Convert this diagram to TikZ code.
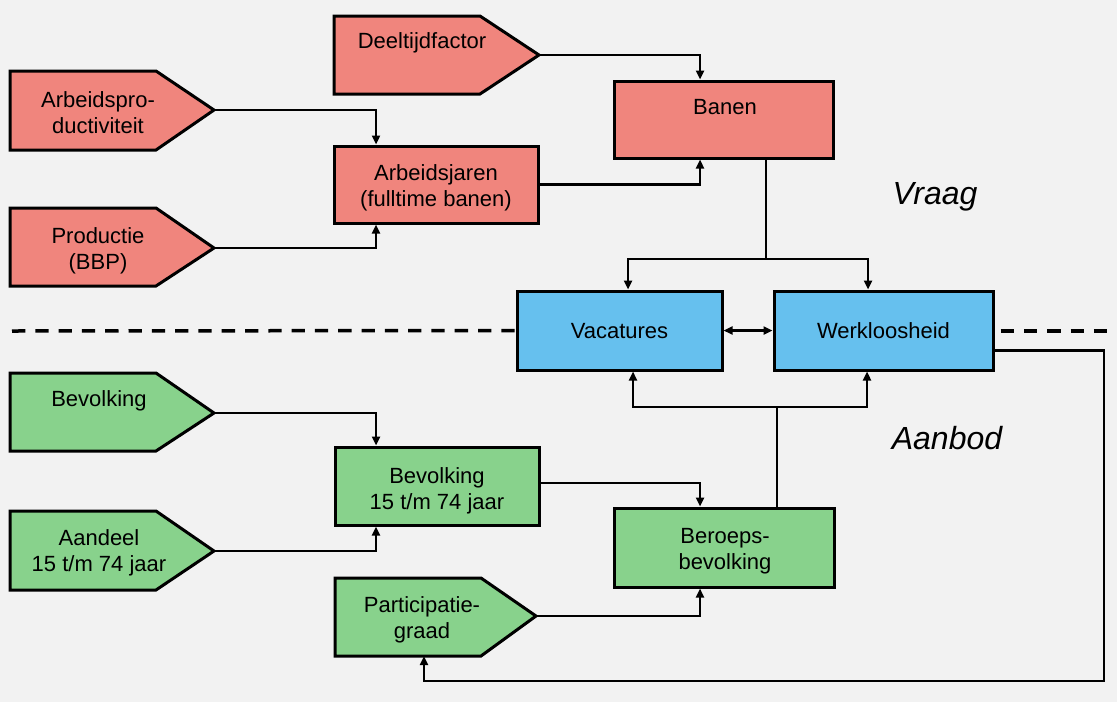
\documentclass[tikz,border=0pt]{standalone}
\usepackage{fontspec}
\setmainfont{Liberation Sans}
\usetikzlibrary{arrows.meta}
\definecolor{bg}{HTML}{F2F2F2}
\definecolor{redf}{HTML}{F0857D}
\definecolor{bluef}{HTML}{66C0EE}
\definecolor{greenf}{HTML}{88D28C}
\tikzset{
  boxst/.style={draw=black, line width=3pt, rectangle, inner sep=0pt},
  pentst/.style={draw=black, line width=3pt, line join=miter},
  lbl/.style={font=\fontsize{22}{26}\selectfont, align=center, inner sep=0pt},
  big/.style={font=\fontsize{32}{36}\selectfont\itshape, inner sep=0pt},
  conn/.style={draw=black, line width=2.6pt},
  arr/.style={conn, -{Triangle[length=9pt,width=8pt]}},
  darr/.style={conn, {Triangle[length=9pt,width=8pt]}-{Triangle[length=9pt,width=8pt]}},
  dashln/.style={draw=black, line width=3.5pt, dash pattern=on 13.3pt off 10pt},
}
\begin{document}
\begin{tikzpicture}[x=1pt,y=-1pt]
\path[fill=bg] (0,0) rectangle (1117,702);
\useasboundingbox (0,0) rectangle (1117,702);

% ---- red pentagons ----
\draw[pentst, fill=redf] (334,16) -- (480,16) -- (539,55) -- (480,94) -- (334,94) -- cycle;
\coordinate (deelT) at (539,55);
\node[lbl] (deelL) at (422,43) {Deeltijdfactor};

\draw[pentst, fill=redf] (10,71) -- (156,71) -- (214,110) -- (156,150) -- (10,150) -- cycle;
\coordinate (arbpT) at (214,110);
\node[lbl] (arbpL) at (98,113) {Arbeidspro-\\ductiviteit};

\draw[pentst, fill=redf] (10,208) -- (156,208) -- (214,248) -- (156,286) -- (10,286) -- cycle;
\coordinate (prodT) at (214,248);
\node[lbl] (prodL) at (98,251) {Productie\\(BBP)};

% ---- red boxes ----
\node[boxst, fill=redf, minimum width=204pt, minimum height=77pt] (arbj) at (436,184.5) {};
\node[lbl] (arbjL) at (436,188) {Arbeidsjaren\\(fulltime banen)};

\node[boxst, fill=redf, minimum width=219pt, minimum height=77pt] (banen) at (723.5,119.5) {};
\node[lbl] (banenL) at (725,107) {Banen};

% ---- blue boxes ----
\node[boxst, fill=bluef, minimum width=205pt, minimum height=79pt] (vac) at (619.5,330.5) {};
\node[lbl] (vacL) at (619.5,331) {Vacatures};
\node[boxst, fill=bluef, minimum width=219pt, minimum height=79pt] (werk) at (883.5,330.5) {};
\node[lbl] (werkL) at (883.5,331) {Werkloosheid};

% ---- green pentagons ----
\draw[pentst, fill=greenf] (10,373) -- (156,373) -- (214,413) -- (156,451) -- (10,451) -- cycle;
\coordinate (bevT) at (214,413);
\node[lbl] (bevL) at (99,401) {Bevolking};

\draw[pentst, fill=greenf] (10,511) -- (156,511) -- (214,551) -- (156,590) -- (10,590) -- cycle;
\coordinate (aandT) at (214,551);
\node[lbl] (aandL) at (99,553) {Aandeel\\15 t/m 74 jaar};

\draw[pentst, fill=greenf] (335,578) -- (481,578) -- (536,616) -- (481,656) -- (335,656) -- cycle;
\coordinate (partT) at (536,616);
\coordinate (partB) at (424,656);
\node[lbl] (partL) at (422,620) {Participatie-\\graad};

% ---- green boxes ----
\node[boxst, fill=greenf, minimum width=204pt, minimum height=78pt] (bev1574) at (437,486) {};
\node[lbl] (bev1574L) at (437,491) {Bevolking\\15 t/m 74 jaar};
\node[boxst, fill=greenf, minimum width=220pt, minimum height=79pt] (beroeps) at (724,547.5) {};
\node[lbl] (beroepsL) at (725,551) {Beroeps-\\bevolking};

% ---- side labels ----
\node[big] (vraag) at (935,197) {Vraag};
\node[big] (aanbod) at (947,438) {Aanbod};

% ---- dashed divider ----
\coordinate (dashL) at (12,331);
\coordinate (dashRs) at (1000.7,331);
\coordinate (dashR) at (1117,331);
\draw[dashln] (dashL) -- (vac.west);
\draw[dashln] (dashRs) -- (dashR);

% ---- connectors ----
\draw[arr] (deelT) -| ([xshift=-23.5pt]banen.north);
\draw[arr] (arbj.east) -| ([xshift=-23.5pt]banen.south);
\draw[arr] (arbpT) -| ([xshift=-60pt]arbj.north);
\draw[arr] (prodT) -| ([xshift=-60pt]arbj.south);

\coordinate (forkT) at (766,259);
\draw[conn] ([xshift=42.5pt]banen.south) -- (forkT);
\draw[arr] (forkT) -| ([xshift=8.5pt]vac.north);
\draw[arr] (forkT) -| ([xshift=-15.5pt]werk.north);

\draw[darr] (vac.east) -- (werk.west);

\coordinate (forkB) at (777,407);
\draw[conn] ([xshift=53pt]beroeps.north) -- (forkB);
\draw[arr] (forkB) -| ([xshift=13.5pt]vac.south);
\draw[arr] (forkB) -| ([xshift=-16.5pt]werk.south);

\draw[arr] (bevT) -| ([xshift=-61pt]bev1574.north);
\draw[arr] (aandT) -| ([xshift=-61pt]bev1574.south);
\draw[arr] ([yshift=3pt]bev1574.east) -| ([xshift=-24pt]beroeps.north);
\draw[arr] (partT) -| ([xshift=-24pt]beroeps.south);

\coordinate (fbC) at (1104,681);
\draw[arr] ([yshift=-20pt]werk.east) -| (fbC) -| (partB);
\end{tikzpicture}
\end{document}
